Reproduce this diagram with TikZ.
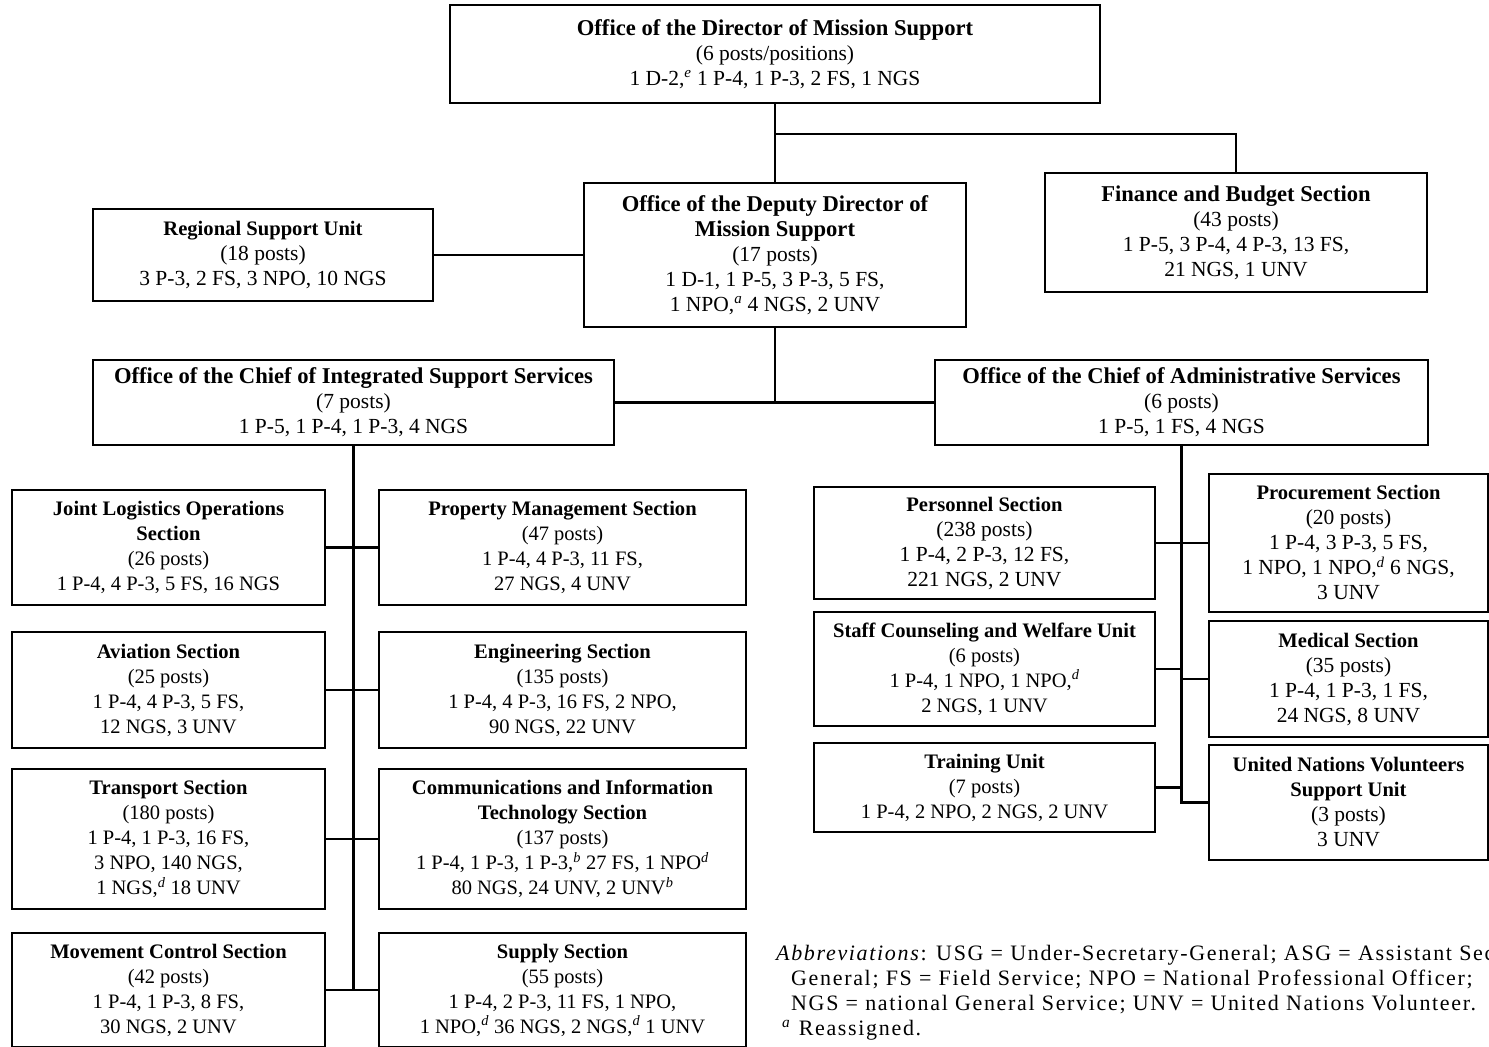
\documentclass[tikz,border=0pt]{standalone}
\usepackage{fontspec}
\setmainfont{Liberation Serif}
\newfontfamily\notefont[LetterSpace=7.6]{Liberation Serif}
\newcommand{\fnm}[1]{\textsuperscript{\textit{#1}}}
\newcommand{\ttl}[1]{{\fontsize{22.6}{25}\selectfont\bfseries #1}}
\newcommand{\sttl}[1]{{\fontsize{20.6}{25}\selectfont\bfseries #1}}

\begin{document}
\begin{tikzpicture}[x=1pt, y=-1pt, unit/.style={draw, line width=1.3pt, align=center, inner sep=0pt, font=\fontsize{21.5}{25}\selectfont}, narrow/.style={unit, font=\fontsize{20.5}{25}\selectfont}, wire/.style={draw, line width=2.2pt}]
\useasboundingbox (0,0) rectangle (1489,1047);
\node[unit, minimum width=650pt, minimum height=98pt] (dms) at (775,54) {\ttl{Office of the Director of Mission Support}\\(6 posts/positions)\\1 D-2,\fnm{e} 1 P-4, 1 P-3, 2 FS, 1 NGS};
\node[unit, minimum width=382pt, minimum height=119pt] (fin) at (1236,232.5) {\ttl{Finance and Budget Section}\\(43 posts)\\1 P-5, 3 P-4, 4 P-3, 13 FS,\\21 NGS, 1 UNV};
\node[unit, minimum width=382pt, minimum height=144pt] (ddms) at (775,255) {\ttl{Office of the Deputy Director of}\\\ttl{Mission Support}\\(17 posts)\\1 D-1, 1 P-5, 3 P-3, 5 FS,\\1 NPO,\fnm{a} 4 NGS, 2 UNV};
\node[unit, minimum width=340pt, minimum height=92pt] (rsu) at (263,255) {\sttl{Regional Support Unit}\\(18 posts)\\3 P-3, 2 FS, 3 NPO, 10 NGS};
\node[unit, minimum width=521pt, minimum height=85pt] (ociss) at (353.5,402.5) {\ttl{Office of the Chief of Integrated Support Services}\\(7 posts)\\1 P-5, 1 P-4, 1 P-3, 4 NGS};
\node[unit, minimum width=493pt, minimum height=85pt] (ocas) at (1181.5,402.5) {\ttl{Office of the Chief of Administrative Services}\\(6 posts)\\1 P-5, 1 FS, 4 NGS};
\node[narrow, minimum width=313pt, minimum height=115pt] (jlos) at (168.5,547.5) {\sttl{Joint Logistics Operations}\\\sttl{Section}\\(26 posts)\\1 P-4, 4 P-3, 5 FS, 16 NGS};
\node[narrow, minimum width=367pt, minimum height=115pt] (pms) at (562.5,547.5) {\sttl{Property Management Section}\\(47 posts)\\1 P-4, 4 P-3, 11 FS,\\27 NGS, 4 UNV};
\node[narrow, minimum width=313pt, minimum height=116pt] (avi) at (168.5,690) {\sttl{Aviation Section}\\(25 posts)\\1 P-4, 4 P-3, 5 FS,\\12 NGS, 3 UNV};
\node[narrow, minimum width=367pt, minimum height=116pt] (eng) at (562.5,690) {\sttl{Engineering Section}\\(135 posts)\\1 P-4, 4 P-3, 16 FS, 2 NPO,\\90 NGS, 22 UNV};
\node[narrow, minimum width=313pt, minimum height=140pt] (trs) at (168.5,839) {\sttl{Transport Section}\\(180 posts)\\1 P-4, 1 P-3, 16 FS,\\3 NPO, 140 NGS,\\1 NGS,\fnm{d} 18 UNV};
\node[narrow, minimum width=367pt, minimum height=140pt] (cit) at (562.5,839) {\sttl{Communications and Information}\\\sttl{Technology Section}\\(137 posts)\\1 P-4, 1 P-3, 1 P-3,\fnm{b} 27 FS, 1 NPO\fnm{d}\\80 NGS, 24 UNV, 2 UNV\fnm{b}};
\node[narrow, minimum width=313pt, minimum height=114pt] (mcs) at (168.5,990) {\sttl{Movement Control Section}\\(42 posts)\\1 P-4, 1 P-3, 8 FS,\\30 NGS, 2 UNV};
\node[narrow, minimum width=367pt, minimum height=114pt] (sup) at (562.5,990) {\sttl{Supply Section}\\(55 posts)\\1 P-4, 2 P-3, 11 FS, 1 NPO,\\1 NPO,\fnm{d} 36 NGS, 2 NGS,\fnm{d} 1 UNV};
\node[unit, minimum width=341pt, minimum height=112pt] (pers) at (984.5,543) {\sttl{Personnel Section}\\(238 posts)\\1 P-4, 2 P-3, 12 FS,\\221 NGS, 2 UNV};
\node[narrow, minimum width=341pt, minimum height=114pt] (scw) at (984.5,669) {\sttl{Staff Counseling and Welfare Unit}\\(6 posts)\\1 P-4, 1 NPO, 1 NPO,\fnm{d}\\2 NGS, 1 UNV};
\node[narrow, minimum width=341pt, minimum height=89pt] (trn) at (984.5,787.5) {\sttl{Training Unit}\\(7 posts)\\1 P-4, 2 NPO, 2 NGS, 2 UNV};
\node[unit, minimum width=279pt, minimum height=138pt] (proc) at (1348.5,543) {\sttl{Procurement Section}\\(20 posts)\\1 P-4, 3 P-3, 5 FS,\\1 NPO, 1 NPO,\fnm{d} 6 NGS,\\3 UNV};
\node[unit, minimum width=279pt, minimum height=116pt] (med) at (1348.5,679) {\sttl{Medical Section}\\(35 posts)\\1 P-4, 1 P-3, 1 FS,\\24 NGS, 8 UNV};
\node[unit, minimum width=279pt, minimum height=115pt] (unv) at (1348.5,802.5) {\sttl{United Nations Volunteers}\\\sttl{Support Unit}\\(3 posts)\\3 UNV};
\coordinate (fork) at (775,134);
\path[wire] (dms.south) -- (ddms.north);
\path[wire] (fork) -| (fin.north);
\path[wire] (rsu.east) -- (ddms.west);
\path[wire] (ddms.south) -- (ddms.south |- ociss.east);
\path[wire] (ociss.east) -- (ocas.west);
\path[wire] (ociss.south) -- (ociss.south |- mcs.east);
\path[wire] (jlos.east) -- (pms.west);
\path[wire] (avi.east) -- (eng.west);
\path[wire] (trs.east) -- (cit.west);
\path[wire] (mcs.east) -- (sup.west);
\path[wire] (ocas.south) |- (unv.west);
\path[wire] (pers.east) -- (proc.west);
\path[wire] (scw.east) -- (scw.east -| ocas.south);
\path[wire] (med.west) -- (med.west -| ocas.south);
\path[wire] (trn.east) -- (trn.east -| ocas.south);
\node[anchor=base west, align=left, inner sep=0pt, font=\notefont\fontsize{22}{25}\selectfont] (abbr) at (776,1035) {\textit{Abbreviations}: USG = Under-Secretary-General; ASG = Assistant Secretary-\\\hspace*{15pt}General; FS = Field Service; NPO = National Professional Officer;\\\hspace*{15pt}NGS = national General Service; UNV = United Nations Volunteer.\\\hspace*{6pt}\textsuperscript{\textit{a}} Reassigned.};
\end{tikzpicture}
\end{document}
